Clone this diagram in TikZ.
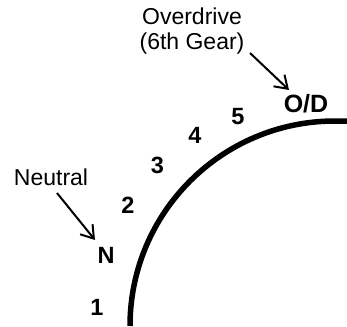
\documentclass[tikz,border=0pt]{standalone}
\usepackage{fontspec}
\setmainfont{Liberation Sans}
\usetikzlibrary{arrows.meta}
\begin{document}
\begin{tikzpicture}[x=1pt,y=-1pt,
  lbl/.style={font=\fontsize{23}{25}\selectfont, inner sep=0pt, align=center},
  gear/.style={font=\fontsize{23.5}{25}\selectfont\bfseries, inner sep=0pt},
  odstyle/.style={font=\fontsize{25}{27}\selectfont\bfseries, inner sep=0pt},
  arr/.style={line width=2pt, -{Straight Barb[length=12pt,width=16pt,line width=2pt]}},
  track/.style={line width=5.5pt}]
\useasboundingbox (0,0) rectangle (347,326);
% labels
\node[lbl] (ovd) at (192,31) {Overdrive\\(6th Gear)};
\node[lbl] (neu) at (51,177) {Neutral};
% gear positions
\node[gear] (g1) at (97,307) {1};
\node[gear] (gN) at (106,255) {N};
\node[gear] (g2) at (128,205.5) {2};
\node[gear] (g3) at (157.5,165.5) {3};
\node[gear] (g4) at (195,135) {4};
\node[gear] (g5) at (238,116.5) {5};
\node[odstyle] (gOD) at (306,104) {O/D};
% arc
\coordinate (arcA) at (130,326);
\coordinate (arcC) at (347,121);
\draw[track] (arcA) arc[start angle=180, end angle=270, radius=205] -- (arcC);
% arrows
\coordinate (o1) at (250,53);
\coordinate (o2) at (289,90);
\coordinate (n1) at (57,193);
\coordinate (n2) at (95,240);
\draw[arr] (o1) -- (o2);
\draw[arr] (n1) -- (n2);
\end{tikzpicture}
\end{document}
